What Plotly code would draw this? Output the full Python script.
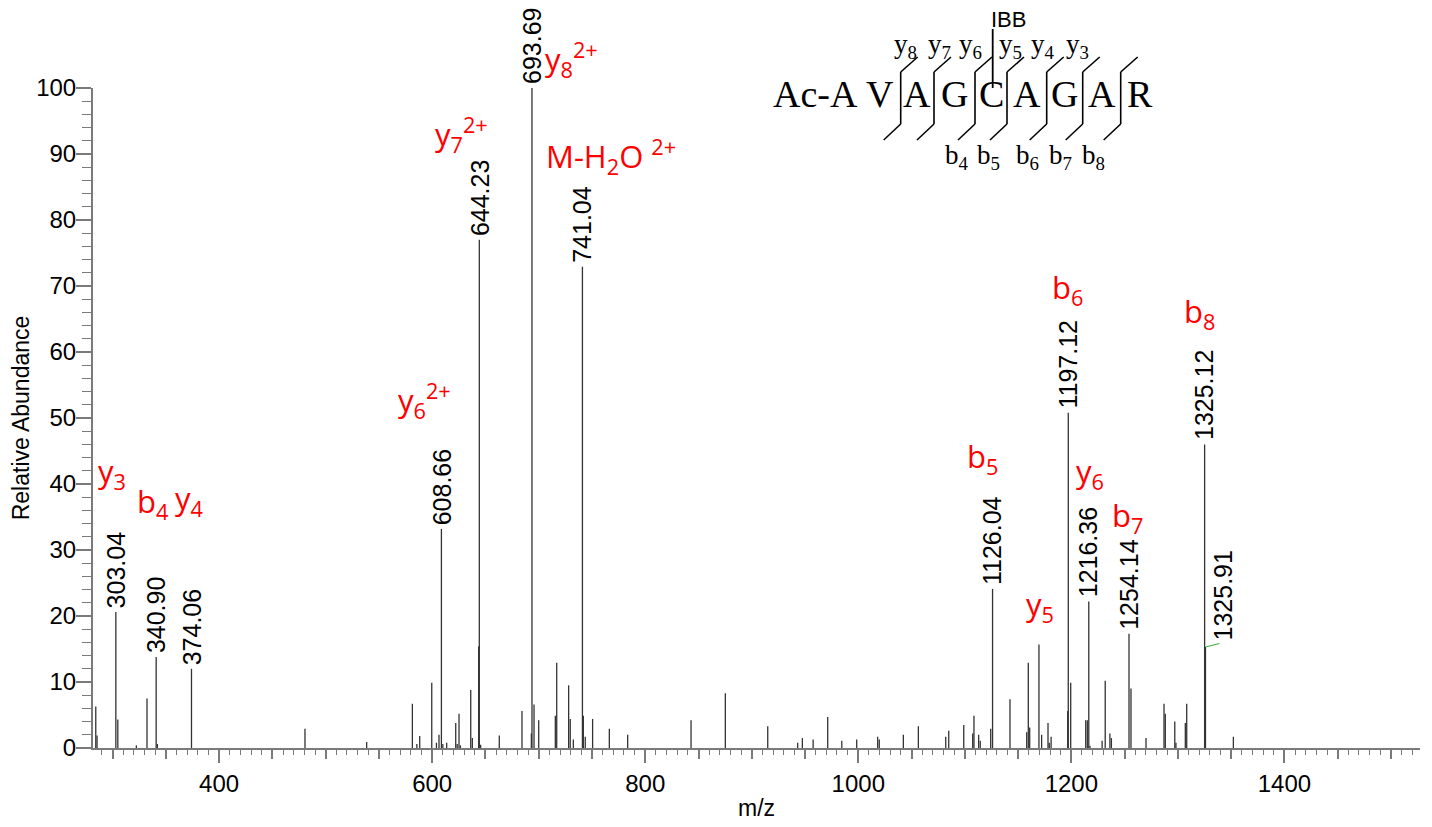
import plotly.graph_objects as go

# ---------------- data ----------------
mz = [284.2, 285.4, 303.04, 304.9, 322.3, 332.3, 340.90, 342.0, 374.06, 480.6,
      538.5, 581.4, 585.6, 588.3, 599.6, 604.0, 606.4, 608.66, 610.0, 613.6,
      622.1, 623.5, 625.2, 626.5, 636.2, 637.7, 643.6, 644.23, 645.5, 663.0,
      684.3, 693.1, 693.69, 695.6, 700.0, 715.6, 716.9, 728.1, 729.6, 732.5,
      741.04, 741.9, 743.7, 750.6, 766.3, 783.5, 843.0, 875.2, 915.0, 943.1,
      947.5, 957.6, 971.3, 984.5, 998.5, 1018.2, 1019.7, 1042.3, 1056.4, 1082.1,
      1084.9, 1099.0, 1107.4, 1108.6, 1113.0, 1114.5, 1124.3, 1126.04, 1142.4, 1158.1,
      1159.6, 1160.9, 1169.6, 1172.1, 1178.1, 1179.3, 1181.0, 1196.6, 1197.12, 1199.4,
      1213.5, 1215.0, 1216.36, 1217.5, 1228.9, 1231.8, 1236.2, 1237.6, 1254.14, 1256.0,
      1270.1, 1287.0, 1288.2, 1297.1, 1298.2, 1307.0, 1308.3, 1325.12, 1325.91, 1352.1]
intensity = [6.3, 1.9, 20.6, 4.3, 0.4, 7.5, 13.8, 0.6, 12.0, 2.9,
             0.9, 6.7, 0.6, 1.8, 9.9, 0.8, 2.0, 33.2, 0.6, 0.8,
             3.8, 0.6, 5.2, 0.4, 8.8, 1.5, 15.4, 77.0, 0.5, 1.9,
             5.6, 2.2, 100.0, 6.6, 4.2, 4.9, 12.9, 9.5, 4.4, 1.3,
             72.9, 4.9, 1.7, 4.4, 2.9, 2.0, 4.2, 8.3, 3.3, 0.8,
             1.5, 1.3, 4.7, 1.1, 1.3, 1.7, 1.3, 2.0, 3.3, 1.7,
             2.6, 3.5, 2.2, 4.9, 2.0, 1.1, 2.9, 24.1, 7.4, 2.4,
             12.9, 3.1, 15.7, 2.0, 3.8, 0.8, 1.7, 5.6, 50.8, 9.9,
             4.2, 4.2, 22.2, 0.35, 1.1, 10.2, 2.2, 1.5, 17.3, 9.0,
             1.5, 6.7, 5.2, 4.0, 0.8, 3.8, 6.7, 46.0, 15.3, 1.7]

labeled_mz = [303.04, 340.90, 374.06, 608.66, 644.23, 693.69, 741.04,
              1126.04, 1197.12, 1216.36, 1254.14, 1325.12]
leader_mz = 1325.91

x_range = [281.6, 1527.3]
y_range = [0, 100]
y_ticks_major = 10
y_ticks_minor = 2
x_ticks_major = 200
x_ticks_mid = 50
x_ticks_minor = 10

# fragment ion annotations (text, pixel centre)
ion_labels = [
    ("y<sub>3</sub>", 112, 473),
    ("b<sub>4</sub>", 152, 503),
    ("y<sub>4</sub>", 189, 500),
    ("y<sub>6</sub><sup>2+</sup>", 425, 400),
    ("y<sub>7</sub><sup>2+</sup>", 461, 135),
    ("y<sub>8</sub><sup>2+</sup>", 571, 60),
    ("M-H<sub>2</sub>O <sup>2+</sup>", 611, 157),
    ("b<sub>5</sub>", 982, 458),
    ("b<sub>6</sub>", 1067, 289),
    ("y<sub>6</sub>", 1090, 473),
    ("b<sub>7</sub>", 1127, 517),
    ("y<sub>5</sub>", 1040, 606),
    ("b<sub>8</sub>", 1199, 313),
]

# peptide diagram
residues = ["Ac-A", "V", "A", "G", "C", "A", "G", "A", "R"]
residue_px = [815, 880, 917, 954.5, 991, 1027, 1064.7, 1101.7, 1140]
cut_px = [900.7, 934, 975, 1007, 1046.7, 1082.7, 1120.7]
y_ion_names = ["y<sub>8</sub>", "y<sub>7</sub>", "y<sub>6</sub>", "y<sub>5</sub>", "y<sub>4</sub>", "y<sub>3</sub>"]
y_ion_px = [905.7, 939, 971, 1010, 1043, 1077]
b_ion_names = ["b<sub>4</sub>", "b<sub>5</sub>", "b<sub>6</sub>", "b<sub>7</sub>", "b<sub>8</sub>"]
b_ion_px = [956.7, 989, 1027.5, 1060.8, 1093]

# ---------------- geometry helpers ----------------
# the page body adds an 8 px offset, so the figure is made 8 px smaller
OFF = 8
W, H = 1432 - OFF, 827 - OFF
L, R, T, B = 93, 1420, 88, 748        # plot area in screen pixels


def pxx(x):
    return (x - L) / (R - L)


def pxy(y):
    return (B - y) / (B - T)


SANS = "Liberation Sans, Arial, Helvetica, sans-serif"
SERIF = "Liberation Serif, Times New Roman, serif"
RED_FONT = "Open Sans, Noto Sans, sans-serif"

# ---------------- stick spectrum ----------------
xs, ys = [], []
for m, v in zip(mz, intensity):
    xs += [m, m, None]
    ys += [0, v, None]

fig = go.Figure()
fig.add_trace(go.Scatter(x=xs, y=ys, mode="lines",
                         line=dict(color="#333333", width=1.3),
                         hoverinfo="skip", showlegend=False))
# helper trace for mid-tick overlay axis
fig.add_trace(go.Scatter(x=[mz[0]], y=[0], mode="markers", xaxis="x2",
                         marker=dict(opacity=0), hoverinfo="skip", showlegend=False))

annotations = []
# peak m/z labels
for m in labeled_mz:
    v = intensity[mz.index(m)]
    annotations.append(dict(x=m, y=v, xref="x", yref="y", text=f"{m:.2f}",
                            showarrow=False, textangle=-90, xanchor="center",
                            yanchor="bottom", yshift=2,
                            font=dict(family=SANS, size=25, color="black")))
# leader line + label
v = intensity[mz.index(leader_mz)]
annotations.append(dict(x=leader_mz, y=v, xref="x", yref="y", text=" ",
                        showarrow=True, arrowhead=0, arrowwidth=1.2, arrowcolor="#3cb043",
                        ax=16, ay=-4, standoff=0, startstandoff=0,
                        font=dict(family=SANS, size=4)))
annotations.append(dict(x=leader_mz, y=v, xref="x", yref="y", text=f"{leader_mz:.2f}",
                        showarrow=False, textangle=-90, xanchor="center",
                        yanchor="bottom", xshift=18, yshift=5,
                        font=dict(family=SANS, size=25, color="black")))

# fragment ion labels
for txt, x, y in ion_labels:
    annotations.append(dict(x=pxx(x), y=pxy(y), xref="paper", yref="paper", text=txt,
                            showarrow=False, xanchor="center", yanchor="middle",
                            font=dict(family=RED_FONT, size=31, color="red")))

# peptide sequence
for res, x in zip(residues, residue_px):
    annotations.append(dict(x=pxx(x), y=pxy(94), xref="paper", yref="paper", text=res,
                            showarrow=False, xanchor="center", yanchor="middle",
                            font=dict(family=SERIF, size=38, color="black")))
for name, x in zip(y_ion_names, y_ion_px):
    annotations.append(dict(x=pxx(x), y=pxy(46), xref="paper", yref="paper", text=name,
                            showarrow=False, xanchor="center", yanchor="middle",
                            font=dict(family=SERIF, size=27, color="black")))
for name, x in zip(b_ion_names, b_ion_px):
    annotations.append(dict(x=pxx(x), y=pxy(157), xref="paper", yref="paper", text=name,
                            showarrow=False, xanchor="center", yanchor="middle",
                            font=dict(family=SERIF, size=27, color="black")))
annotations.append(dict(x=pxx(1008), y=pxy(19), xref="paper", yref="paper", text="IBB",
                        showarrow=False, xanchor="center", yanchor="middle",
                        font=dict(family=SANS, size=22, color="black")))

shapes = []
for xv in cut_px:
    for (x0, y0, x1, y1) in [(xv + 17, 57, xv, 72), (xv, 72, xv, 124), (xv, 124, xv - 17, 140)]:
        shapes.append(dict(type="line", xref="paper", yref="paper",
                           x0=pxx(x0), y0=pxy(y0), x1=pxx(x1), y1=pxy(y1),
                           line=dict(color="black", width=1.6)))
shapes.append(dict(type="line", xref="paper", yref="paper",
                   x0=pxx(992.7), y0=pxy(29), x1=pxx(992.7), y1=pxy(88),
                   line=dict(color="black", width=1.8)))

axis_grey = "#7a7a7a"
fig.update_layout(
    width=W, height=H,
    margin=dict(l=L - OFF, r=W - (R - OFF), t=T - OFF, b=H - (B - OFF), autoexpand=False),
    plot_bgcolor="white", paper_bgcolor="white",
    font=dict(family=SANS, size=24, color="black"),
    xaxis=dict(range=x_range, tickmode="linear", tick0=0, dtick=x_ticks_major,
               ticks="outside", ticklen=13, tickwidth=1.5, tickcolor=axis_grey,
               showline=True, linecolor=axis_grey, linewidth=2,
               showgrid=False, zeroline=False, automargin=False,
               tickfont=dict(family=SANS, size=24),
               minor=dict(dtick=x_ticks_minor, tick0=0, ticks="outside", ticklen=5,
                          tickwidth=1.2, tickcolor=axis_grey, showgrid=False),
               title=dict(text="m/z", standoff=4, font=dict(family=SANS, size=23))),
    xaxis2=dict(range=x_range, overlaying="x", anchor="y", side="bottom",
                tickmode="linear", tick0=0, dtick=x_ticks_mid, automargin=False,
                ticks="outside", ticklen=10, tickwidth=1.5, tickcolor=axis_grey,
                showticklabels=False, showline=False, showgrid=False, zeroline=False),
    yaxis=dict(range=y_range, tickmode="linear", tick0=0, dtick=y_ticks_major,
               ticks="outside", ticklen=15, tickwidth=1.5, tickcolor=axis_grey,
               showline=True, linecolor=axis_grey, linewidth=2,
               showgrid=False, zeroline=False, automargin=False,
               ticklabelstandoff=-5,
               tickfont=dict(family=SANS, size=24),
               minor=dict(dtick=y_ticks_minor, tick0=0, ticks="outside", ticklen=9,
                          tickwidth=1.2, tickcolor=axis_grey, showgrid=False),
               title=dict(text="Relative Abundance", standoff=0,
                          font=dict(family=SANS, size=23))),
    annotations=annotations,
    shapes=shapes,
    showlegend=False,
)

fig.write_html("out.html")
